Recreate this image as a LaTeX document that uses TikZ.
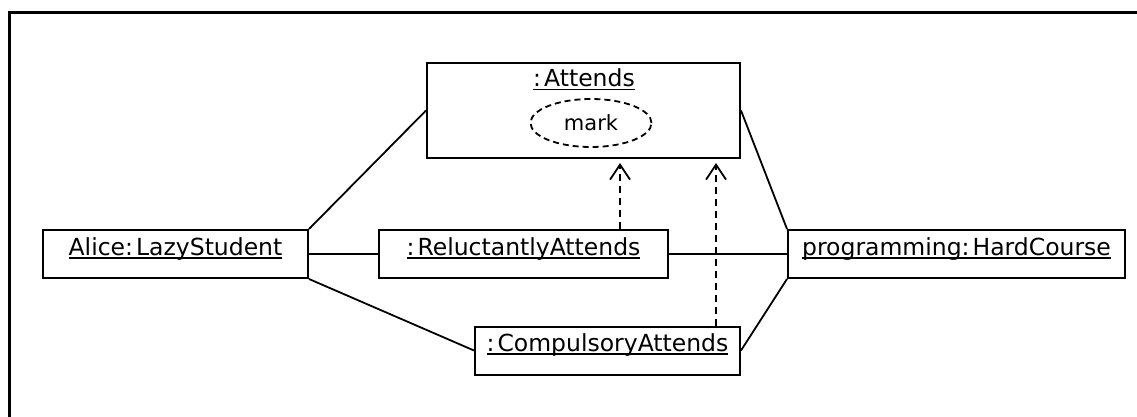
\documentclass[tikz,border=0pt]{standalone}
\usepackage{fontspec}
\setmainfont{DejaVu Sans}
\usetikzlibrary{arrows.meta,shapes.geometric}
% underlined object name, rule just below the baseline
\newcommand\objname[1]{\setbox0\hbox{#1}\rlap{\rule[-3.5pt]{\wd0}{1.6pt}}\box0}
% colon separating object and class names, with a little room after it
\newcommand\sep{:\kern3pt}
\tikzset{
  objbox/.style={draw, line width=2pt, inner xsep=0pt, inner ysep=0pt,
    minimum height=48pt, text height=25pt, text depth=23pt,
    font=\fontsize{23.5}{28}\selectfont},
  assoc/.style={line width=1.8pt},
  dep/.style={line width=1.8pt, dash pattern=on 7pt off 5pt,
    -{Straight Barb[length=15pt,width=20pt,line width=1.8pt]}},
}
\begin{document}
\begin{tikzpicture}[x=1pt,y=-1pt]
  \useasboundingbox (0,0) rectangle (1137,417);
  \clip (0,0) rectangle (1137,417);
  % frame, open to the right and bottom
  \draw[line width=3pt] (1150,13) -- (9,13) -- (9,430);

  % link object with its attribute
  \node[draw, line width=2pt, minimum width=313pt, minimum height=95pt, inner sep=0pt]
    (att) at (583.5,110.5) {};
  \node[font=\fontsize{23.5}{28}\selectfont, inner sep=0pt, anchor=base]
    (atttitle) at (584,87) {\objname{\sep Attends}};
  \node[draw, ellipse, line width=1.8pt, dash pattern=on 6pt off 4pt,
    minimum width=121pt, minimum height=48pt, inner sep=0pt,
    font=\fontsize{21}{24}\selectfont] (mark) at (591,123) {mark};

  % objects
  \node[objbox, minimum width=265pt] (alice) at (175.5,254) {\objname{Alice\sep LazyStudent}};
  \node[objbox, minimum width=289pt] (rel) at (523.5,254) {\objname{\sep ReluctantlyAttends}};
  \node[objbox, minimum width=265pt] (comp) at (607.5,350.5) {\objname{\sep CompulsoryAttends}};
  \node[objbox, minimum width=337pt] (hard) at (956.5,254) {\objname{programming\sep HardCourse}};

  % associations
  \draw[assoc] (alice.north east) -- (att.west);
  \draw[assoc] (att.east) -- (hard.north west);
  \draw[assoc] (alice.east) -- (rel.west);
  \draw[assoc] (rel.east) -- (hard.west);
  \draw[assoc] (alice.south east) -- (comp.west);
  \draw[assoc] (comp.east) -- (hard.south west);

  % dependencies towards the link object
  \coordinate (t1) at (620,163);
  \coordinate (t2) at (716,163);
  \draw[dep] (t1 |- rel.north) -- (t1);
  \draw[dep] (t2 |- comp.north) -- (t2);
\end{tikzpicture}
\end{document}
